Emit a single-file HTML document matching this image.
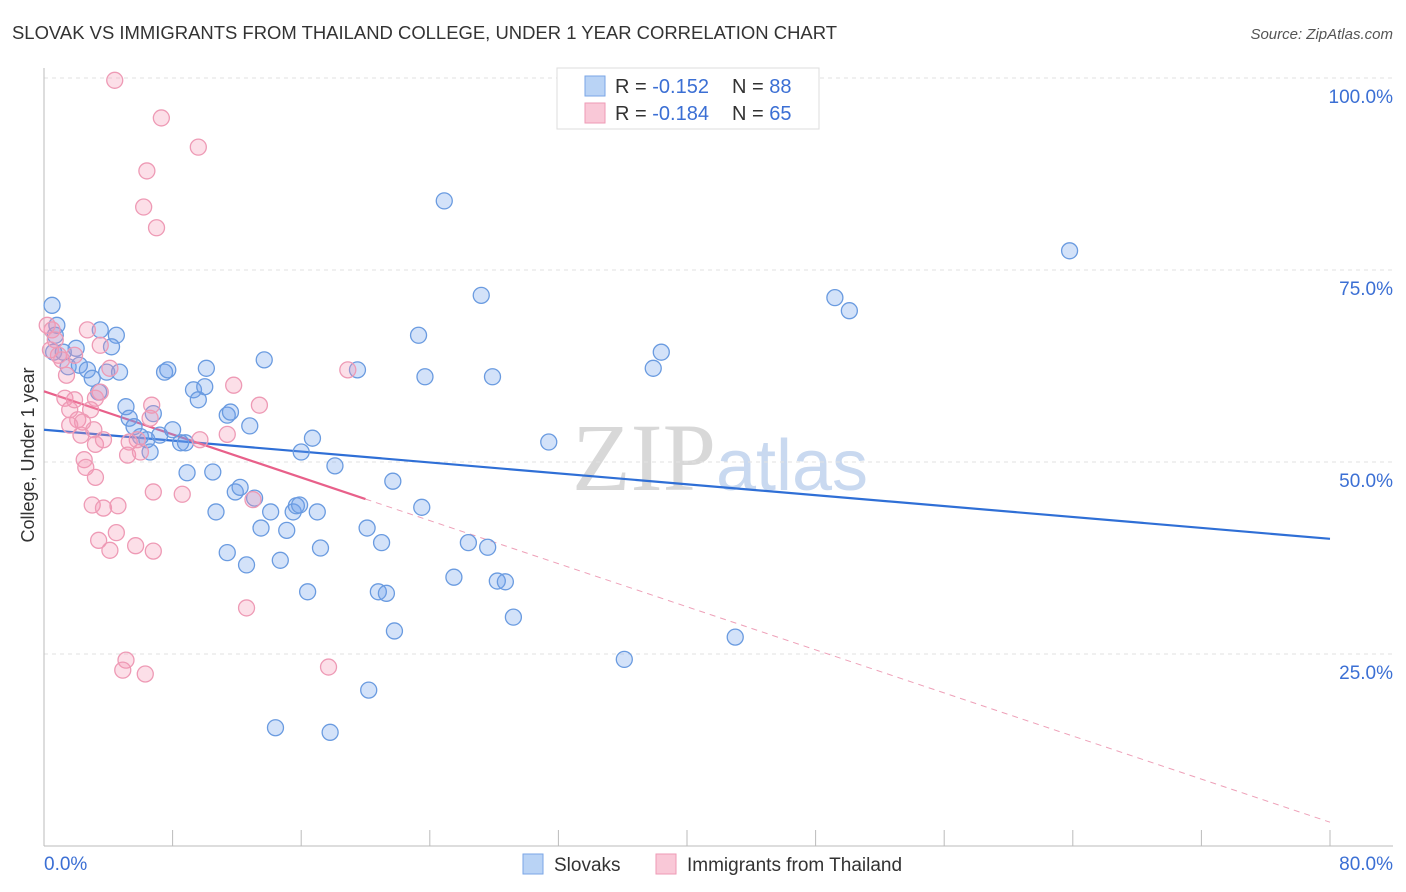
<!DOCTYPE html>
<html><head><meta charset="utf-8"><style>
body{margin:0;background:#fff;font-family:"Liberation Sans",sans-serif;}
svg{display:block}
</style></head><body>
<svg id="chart" width="1406" height="892" xmlns="http://www.w3.org/2000/svg">
<text x="12" y="39" font-size="18" fill="#333" textLength="825" lengthAdjust="spacingAndGlyphs">SLOVAK VS IMMIGRANTS FROM THAILAND COLLEGE, UNDER 1 YEAR CORRELATION CHART</text>
<text x="1393" y="39" font-size="15" fill="#555" font-style="italic" text-anchor="end">Source: ZipAtlas.com</text>
<text x="720" y="490" font-size="96" fill="#d8d8d8" text-anchor="middle" font-family="Liberation Serif,serif">ZIP<tspan fill="#c9d9f0" font-family="Liberation Sans,sans-serif" font-size="72">atlas</tspan></text>
<g id="grid"></g><g id="axes"></g><g id="lines"></g><g id="pts"></g>
<text x="34" y="455" font-size="18" fill="#333" text-anchor="middle" transform="rotate(-90 34 455)">College, Under 1 year</text>
<g>
<rect x="557" y="68" width="262" height="61" fill="#fff" stroke="#ddd"/>
<rect x="585" y="76" width="20" height="20" fill="#b9d3f5" stroke="#7aa6e6"/>
<rect x="585" y="103" width="20" height="20" fill="#f9c8d7" stroke="#ee9ab5"/>
<text x="615" y="93" font-size="20" fill="#333">R = <tspan fill="#3b6fd4">-0.152</tspan></text>
<text x="732" y="93" font-size="20" fill="#333">N = <tspan fill="#3b6fd4">88</tspan></text>
<text x="615" y="120" font-size="20" fill="#333">R = <tspan fill="#3b6fd4">-0.184</tspan></text>
<text x="732" y="120" font-size="20" fill="#333">N = <tspan fill="#3b6fd4">65</tspan></text>
</g>
<g>
<rect x="523" y="854" width="20" height="20" fill="#b9d3f5" stroke="#7aa6e6"/>
<text x="554" y="871" font-size="19" fill="#333">Slovaks</text>
<rect x="656" y="854" width="20" height="20" fill="#f9c8d7" stroke="#ee9ab5"/>
<text x="687" y="871" font-size="19" fill="#333">Immigrants from Thailand</text>
</g>
</svg>
<script>
const blueX=[.5,.8,.7,.6,1.2,2.0,1.5,2.2,2.7,3.0,3.5,4.5,4.2,3.9,4.7,3.4,5.1,5.3,5.6,6.0,6.4,6.6,6.8,7.2,7.5,7.7,8.0,8.5,8.8,8.9,9.3,9.6,10.0,10.1,10.5,10.7,11.4,11.6,11.9,12.2,12.8,13.1,11.4,12.6,13.7,13.5,14.1,14.7,15.1,15.5,15.7,15.9,16.4,16.0,16.7,17.0,17.2,18.1,17.8,14.4,19.5,20.1,20.2,21.0,20.8,21.3,21.7,21.8,23.3,23.5,23.7,24.9,25.5,26.4,27.2,27.6,27.9,28.2,28.7,29.2,31.4,36.1,37.9,38.4,43.0,49.2,50.1,63.8];
const blueY=[70.4,67.8,66.5,64.3,64.3,64.8,62.4,62.6,62.0,60.9,67.2,66.5,65.0,61.7,61.7,59.1,57.2,55.7,54.6,53.3,52.9,51.3,56.3,53.5,61.7,62.0,54.2,52.5,52.5,48.6,59.4,58.1,59.8,62.2,48.7,43.5,56.1,56.5,46.1,46.7,54.7,45.3,38.2,36.6,63.3,41.4,43.5,37.2,41.1,43.5,44.3,44.4,33.1,51.3,53.1,43.5,38.8,49.5,14.8,15.4,62.0,41.4,20.3,39.5,33.1,32.9,47.5,28.0,66.5,44.1,61.1,84.0,35.0,39.5,71.7,38.9,61.1,34.5,34.4,29.8,52.6,24.3,62.2,64.3,27.2,71.4,69.7,77.5];
const pinkX=[4.4,7.3,9.6,6.4,6.2,7.0,.2,.5,.7,.4,.9,1.1,1.4,1.9,2.7,3.5,3.5,4.1,3.2,1.3,1.6,1.9,2.1,2.4,1.6,2.9,3.1,2.3,3.2,3.7,2.5,2.6,3.2,5.3,5.2,6.0,5.8,6.7,6.6,3.0,3.7,4.6,3.4,4.1,4.5,5.7,6.8,6.8,8.6,9.7,11.4,11.8,13.4,13.0,12.6,18.9,5.1,4.9,6.3,17.7];
const pinkY=[99.7,94.8,91.0,87.9,83.2,80.5,67.8,67.2,65.9,64.6,63.9,63.3,61.3,63.9,67.2,65.2,59.1,62.2,58.3,58.3,56.8,58.1,55.5,55.2,54.8,56.8,54.2,53.5,52.3,52.9,50.3,49.3,48.0,52.6,50.9,51.3,52.9,57.4,55.7,44.4,44.0,44.3,39.8,38.5,40.8,39.1,38.4,46.1,45.8,52.9,53.6,60.0,57.4,45.1,31.0,62.0,24.2,22.9,22.4,23.3];
const blueTrend=[54.2,40.0];
const pinkTrend=[59.2,3.1];
const yTicks=[25,50,75,100];
const xTickLabels=["0.0%","80.0%"];
const NS="http://www.w3.org/2000/svg";
const X=v=>44+v/80*1286, Y=v=>846-v*7.68;
function mk(tag,attrs,parent){const e=document.createElementNS(NS,tag);for(const k in attrs)e.setAttribute(k,attrs[k]);document.getElementById(parent).appendChild(e);return e;}
yTicks.forEach(t=>{
 const l=mk('line',{x1:44,x2:1393,y1:Y(t),y2:Y(t),stroke:'#e2e2e2','stroke-dasharray':'4,4'},'grid');
 
 
 const tx=mk('text',{x:1393,y:Y(t)+25,'font-size':19,fill:'#3b6fd4','text-anchor':'end'},'axes');
 tx.textContent=t.toFixed(1)+'%';
 
 
});
mk('line',{x1:44,x2:44,y1:68,y2:846,stroke:'#bbb'},'axes');
mk('line',{x1:44,x2:1393,y1:846,y2:846,stroke:'#bbb'},'axes');
for(let i=1;i<=10;i++){mk('line',{x1:X(i*8),x2:X(i*8),y1:830,y2:846,stroke:'#bbb'},'axes');}
[[0,'start',44],[80,'end',1393]].forEach((d,i)=>{
 const t=mk('text',{x:d[2],y:870,'font-size':19,fill:'#3b6fd4','text-anchor':d[1]},'axes');
 t.textContent=xTickLabels[i];
 
 
});
function dots(xs,ys,fill,stroke,name){xs.forEach((x,i)=>{
 const c=mk('circle',{cx:X(x),cy:Y(ys[i]),r:8,fill:fill,stroke:stroke,'stroke-width':1.3},'pts');
 
 
});}
dots(blueX,blueY,'rgba(110,160,235,0.3)','#6a9be0','slovak-point');
dots(pinkX,pinkY,'rgba(245,150,180,0.3)','#ee9ab5','thailand-point');
const bl=mk('line',{x1:X(0),y1:Y(blueTrend[0]),x2:X(80),y2:Y(blueTrend[1]),stroke:'#2f6fd6','stroke-width':2.2},'lines');


const pAt=x=>pinkTrend[0]+(pinkTrend[1]-pinkTrend[0])*x/80;
const pl=mk('line',{x1:X(0),y1:Y(pAt(0)),x2:X(20),y2:Y(pAt(20)),stroke:'#e8608a','stroke-width':2.2},'lines');


const pd=mk('line',{x1:X(20),y1:Y(pAt(20)),x2:X(80),y2:Y(pAt(80)),stroke:'#eea0b8','stroke-width':1,'stroke-dasharray':'6,5'},'lines');


</script>
</body></html>
